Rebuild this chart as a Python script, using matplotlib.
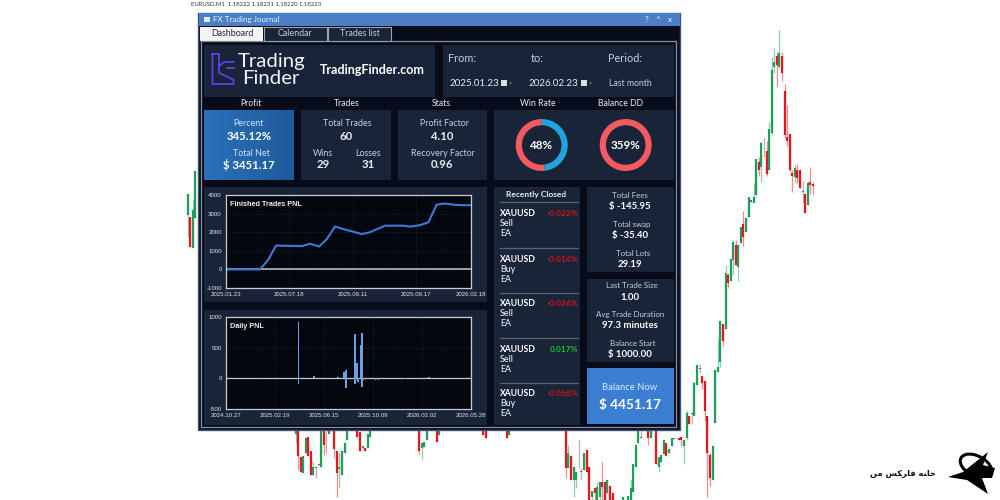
import numpy as np
import matplotlib
matplotlib.use("Agg")
import matplotlib.pyplot as plt
from matplotlib.patches import Rectangle, Polygon, Arc

plt.rcParams["font.family"] = ["Lato", "DejaVu Sans"]

# ---- chart data ----
pnl_pos = [0, 13.9, 17.3, 20.4, 30.9, 34.3, 38, 41.1, 44.5, 47.9, 55.4, 58.8, 64.9, 72.4, 75.1, 79.2, 82.6, 86, 89.4, 92.9, 97, 100]
pnl_val = [0, 0, 530, 1280, 1250, 1380, 1230, 1620, 2300, 2170, 1900, 2000, 2350, 2350, 2300, 2380, 2530, 3480, 3540, 3480, 3450, 3450]
pnl_tick_pos = [0, 25.85, 51.7, 77.55, 100]
pnl_tick_labels = ["2025.01.23", "2025.07.18", "2025.09.11", "2025.09.17", "2026.02.18"]
pnl_yticks = [-1000, 0, 1000, 2000, 3000, 4000]

daily_day = [86, 170, 170, 206, 263, 277, 282, 282, 303, 303, 307, 309, 317, 319, 319, 323, 351, 358, 420, 476]
daily_val = [-15, 920, -90, 30, 20, 100, 140, -150, 730, -100, 250, -60, 540, 740, -140, -20, -20, -20, -15, 15]
daily_ticks = [0, 115, 230, 345, 460, 575]
daily_tick_labels = ["2024.10.27", "2025.02.19", "2025.06.15", "2025.10.09", "2026.02.02", "2026.05.28"]
daily_yticks = [-500, 0, 500, 1000]

win_rate = [52, 48]
balance_dd = [100]

closed_symbol = ["XAUUSD"] * 5
closed_side = ["Sell", "Buy", "Sell", "Sell", "Buy"]
closed_pct = ["-0.022%", "-0.014%", "-0.024%", "0.017%", "-0.056%"]

candles_left = [(54, 195, 132, 132, 262), (60, 200, 290, 200, 290), (68, 295, 180, 148, 295), (75, 205, 62, 62, 205)]
candles_right_top = [
    (183, 668, 620, 620, 668), (190, 612, 650, 572, 678), (198, 635, 595, 595, 635), (206, 590, 532, 532, 590),
    (214, 545, 540, 540, 545), (222, 548, 530, 490, 548), (229, 525, 418, 418, 525), (237, 425, 450, 410, 468),
    (244, 440, 370, 362, 485), (252, 385, 383, 350, 410), (260, 392, 462, 362, 468), (268, 450, 328, 305, 450),
    (275, 338, 150, 110, 345), (283, 142, 125, 85, 158), (291, 108, 135, 95, 200), (298, 142, 100, 30, 145),
    (306, 108, 160, 95, 182), (314, 212, 345, 192, 350), (321, 350, 362, 255, 378), (329, 343, 450, 343, 455),
    (337, 458, 468, 450, 515), (345, 472, 445, 435, 490), (352, 450, 475, 432, 490), (360, 450, 505, 450, 505),
    (368, 516, 513, 482, 548), (375, 522, 580, 522, 580), (383, 555, 490, 482, 555), (391, 485, 495, 442, 522),
    (398, 492, 498, 485, 525),
]
candles_right_low = [
    (4, 562, 570, 562, 588), (12, 588, 570, 570, 642), (20, 565, 488, 480, 570), (27, 498, 522, 498, 522),
    (35, 493, 490, 485, 522), (43, 498, 400, 392, 498), (51, 405, 345, 345, 405), (59, 358, 355, 342, 368),
    (67, 378, 400, 378, 418), (75, 392, 482, 392, 514), (82, 498, 610, 498, 740), (90, 615, 685, 610, 708),
    (98, 690, 587, 587, 690), (106, 520, 360, 360, 520), (113, 365, 350, 270, 365), (121, 335, 213, 213, 350),
    (129, 222, 272, 222, 287), (137, 238, 68, 45, 238), (144, 75, 100, 68, 115), (152, 92, 28, 28, 92),
    (160, 30, -25, -30, 75), (167, -15, 45, -30, 45), (175, 52, -15, -15, 92),
]
candles_bottom = [
    (47, 28, 18, 18, 55), (55, 18, 93, 18, 135), (62, 97, 142, 97, 142), (70, 143, 92, 92, 143),
    (77, 85, 38, 38, 85), (85, 35, 92, 35, 92), (93, 78, 150, 78, 150), (100, 150, 125, 110, 150),
    (108, 130, 125, 125, 158), (116, 120, 118, 118, 120), (124, 125, 18, 18, 125), (131, 18, 60, 18, 90),
    (139, 85, 83, 18, 85), (147, 28, 18, 18, 28), (162, 18, 72, 18, 100), (170, 78, 143, 78, 215),
    (178, 133, 125, 80, 188), (186, 150, 78, 78, 150), (194, 85, 55, 55, 85), (201, 45, 18, 18, 45),
    (232, 18, 35, 18, 35), (240, 22, 78, 22, 78), (248, 70, 62, 62, 70), (255, 68, 78, 68, 78),
    (263, 70, 27, 27, 70), (270, 35, 18, 18, 35), (417, 18, 78, 18, 88), (425, 70, 55, 55, 102),
    (433, 65, 50, 50, 65), (440, 45, 18, 18, 45), (471, 18, 50, 18, 50), (478, 30, 18, 18, 30),
    (610, 18, 30, 18, 30), (617, 18, 38, 18, 38), (680, 18, 38, 18, 38), (688, 30, 18, 18, 30),
    (857, 18, 130, 18, 158), (865, 130, 85, 60, 130), (873, 92, 165, 92, 165), (881, 165, 125, 125, 215),
    (889, 165, 140, 140, 190), (897, 127, 125, 42, 130), (904, 140, 138, 130, 165), (912, 135, 85, 85, 135),
    (920, 75, 140, 75, 140), (928, 125, 225, 125, 225), (936, 215, 198, 198, 225), (944, 190, 205, 190, 225),
    (952, 225, 185, 172, 225), (960, 215, 172, 172, 225), (966, 170, 185, 110, 225), (974, 172, 225, 172, 225),
    (982, 205, 165, 165, 205), (990, 182, 225, 182, 225), (998, 205, 225, 205, 225), (1030, 225, 215, 215, 225),
    (1045, 225, 212, 212, 225), (1052, 225, 190, 165, 225), (1059, 200, 118, 118, 200), (1067, 125, 60, 60, 125),
    (1075, 55, 18, 18, 55), (1082, 38, 36, 18, 38), (1105, 18, 38, 18, 60), (1113, 38, 18, 18, 38),
    (1128, 18, 118, 18, 118), (1136, 125, 95, 95, 142), (1144, 110, 90, 90, 110), (1152, 88, 45, 45, 88),
    (1159, 55, 92, 55, 92), (1167, 85, 72, 72, 85), (1175, 62, 38, 38, 62), (1182, 42, 39, 38, 42),
    (1197, 38, 45, 38, 45),
]

# ---- colours ----
PAGE_BG = "#ffffff"
WIN_BG = "#080c1a"
PANEL = "#1a2438"
GREEN = "#1f9d5c"
RED = "#e8151f"
GRAY = "#6b6b6b"
TEXT = "#e8edf3"
SOFT = "#c3d0de"

fig = plt.figure(figsize=(10, 5), dpi=100, facecolor=PAGE_BG)
ax = fig.add_axes([0, 0, 1, 1])
ax.set_xlim(0, 1000)
ax.set_ylim(500, 0)
ax.axis("off")


def draw_candles(rows, x0, y0):
    for x, o, c, h, l in rows:
        px = x0 + x / 3
        col = GRAY if abs(o - c) <= 5 else (GREEN if o > c else RED)
        ax.vlines(px, y0 + h / 3, y0 + l / 3, color=col, lw=0.9, alpha=0.5, zorder=1)
        ax.vlines(px, y0 + min(o, c) / 3, y0 + max(o, c) / 3, color=col, lw=1.6, zorder=2)


def panel(x0, y0, x1, y1, color=PANEL):
    ax.add_patch(Rectangle((x0, y0), x1 - x0, y1 - y0, facecolor=color, edgecolor="none", zorder=5))


def label(x, y, s, size=6.4, color=TEXT, weight="normal", ha="center", **kw):
    ax.text(x, y, s, fontsize=size, color=color, fontweight=weight, ha=ha, va="center", zorder=8, **kw)


draw_candles(candles_left, 170, 150)
draw_candles(candles_right_top, 680, 20)
draw_candles(candles_right_low, 680, 250)
draw_candles(candles_bottom, 280, 425)

label(191, 4, "EURUSD.M1  1.18222 1.18231 1.18220 1.18223", size=4.3, color="#333333", ha="left")

# window frame
ax.add_patch(Rectangle((198, 13), 482, 417, facecolor=WIN_BG, edgecolor="#3f5680", lw=1, zorder=4))
panel(199, 13, 680, 26, "#4a7fc6")
label(213, 19.5, "FX Trading Journal", size=5.8, color="#eaf2ff", ha="left")
ax.add_patch(Rectangle((204, 16.5), 6, 5, facecolor="#dfeaf8", zorder=8))
for px, s in zip([647, 658, 670], ["?", "^", "x"]):
    label(px, 19.5, s, size=6, color="#eaf2ff")

# tabs
ax.plot([201, 676, 676, 201, 201], [41, 41, 427, 427, 41], color="#8a909a", lw=0.9, zorder=6)
panel(200, 27, 263, 41, "#f4f5f6")
label(232, 34, "Dashboard", size=6.4, color="#222a36")
for x0, x1, s in [(264, 327, "Calendar"), (328, 391, "Trades list")]:
    ax.add_patch(Rectangle((x0, 27), x1 - x0, 14, facecolor=PANEL, edgecolor="#9aa3ae", lw=0.8, zorder=6))
    label((x0 + x1) / 2, 34, s, size=6.4, color=SOFT)

# header panels
panel(204, 45, 435, 97)
panel(443, 45, 674, 97)

# logo mark
logo = "#5a3fd8"
ax.plot([212.5, 219, 219, 228, 233.5, 233.5, 212.5, 212.5], [54, 54, 73, 77, 80, 84, 84, 54], color=logo, lw=1.4, zorder=8)
ax.plot([233.5, 224, 219], [62, 62, 66], color=logo, lw=1.4, zorder=8)
ax.plot([233.5, 227], [68, 68], color=logo, lw=1.4, zorder=8)
label(238, 62, "Trading", size=14.7, color="#f2f4f7", ha="left")
label(242, 79, "Finder", size=14.7, color="#f2f4f7", ha="left")
label(372, 70, "TradingFinder.com", size=9, color="#ffffff", weight="bold")

label(448, 59, "From:", size=7.8, ha="left", color=SOFT)
label(537, 59, "to:", size=7.8, color=SOFT)
label(625, 59, "Period:", size=7.8, color=SOFT)
label(449, 83, "2025.01.23", size=7, ha="left")
label(553, 83, "2026.02.23", size=7)
label(630, 83, "Last month", size=6.2, color=SOFT)
for px in [501, 581]:
    ax.add_patch(Rectangle((px, 80), 5.5, 6, facecolor="#d8dde3", zorder=8))
    ax.add_patch(Polygon([(px + 8, 82.5), (px + 11, 82.5), (px + 9.5, 84.5)], facecolor="#7d8794", zorder=8))

# section headings
for px, s in zip([251, 347, 441, 538, 621], ["Profit", "Trades", "Stats", "Win Rate", "Balance DD"]):
    label(px, 104, s, size=6.2, color=TEXT)

# stat cards
ax.imshow(np.linspace(0, 1, 64).reshape(1, -1), extent=(204, 294, 180, 110), aspect="auto",
          cmap=matplotlib.colors.LinearSegmentedColormap.from_list("card", ["#2b70ba", "#1f5a9a"]), zorder=5)
ax.set_xlim(0, 1000)
ax.set_ylim(500, 0)
panel(301, 110, 391, 180)
panel(398, 110, 487, 180)
panel(494, 110, 674, 180)

label(248, 124, "Percent", color="#d4e4f6")
label(249, 136, "345.12%", size=8.2, weight="bold", color="#ffffff")
label(251, 153, "Total Net", color="#d4e4f6")
label(249, 165, "$ 3451.17", size=8.2, weight="bold", color="#ffffff")
label(347, 124, "Total Trades", color=SOFT)
label(346, 136, "60", size=8.2, weight="bold")
label(323, 153, "Wins", color=SOFT)
label(323, 165, "29", size=8.2, weight="bold")
label(368, 153, "Losses", color=SOFT)
label(368, 165, "31", size=8.2, weight="bold")
label(444, 124, "Profit Factor", color=SOFT)
label(442, 136, "4.10", size=8.2, weight="bold")
label(443, 153, "Recovery Factor", color=SOFT)
label(442, 165, "0.96", size=8.2, weight="bold")

# chart panels + side panels
panel(204, 187, 487, 302)
panel(204, 310, 487, 425)
panel(494, 187, 580, 425)
panel(587, 187, 674, 272)
panel(587, 279, 674, 362)
panel(587, 368, 674, 424, "#3a7fd2")

label(536, 195, "Recently Closed", size=6, weight="bold")
ax.plot([500, 578], [202, 202], color="#5a6474", lw=0.9, zorder=8)
for i in range(5):
    top = 214 + i * 45
    label(500, top, closed_symbol[i], size=6.2, weight="bold", ha="left", color="#ffffff")
    label(500, top + 10, closed_side[i], size=6.4, ha="left", weight="medium")
    label(500, top + 20, "EA", size=6.4, ha="left", weight="medium")
    label(578, top, closed_pct[i], size=6, weight="bold", ha="right",
          color="#19c42a" if not closed_pct[i].startswith("-") else "#d5121e")
    if i < 4:
        ax.plot([500, 578], [top + 33.5, top + 33.5], color="#5a6474", lw=0.9, zorder=8)

side_labels = [(630, 195, "Total Fees"), (632, 224, "Total swap"), (633, 253, "Total Lots"),
               (632, 285, "Last Trade Size"), (630, 314, "Avg Trade Duration"), (633, 343, "Balance Start")]
side_values = [(630, 206.5, "$ -145.95"), (630, 235.5, "$ -35.40"), (630, 264.5, "29.19"),
               (630, 297, "1.00"), (630, 325.5, "97.3 minutes"), (630, 355, "$ 1000.00")]
for px, py, s in side_labels:
    label(px, py, s, size=5.7, color=SOFT)
for px, py, s in side_values:
    label(px, py, s, size=6.9, weight="bold", color="#ffffff")
label(630, 387, "Balance Now", size=6.8, color="#dbe9fa")
label(630, 405, "$ 4451.17", size=9.8, weight="bold", color="#ffffff")

# watermark (visual-order presentation forms, matplotlib does no shaping)
ax.text(936, 474, "\ufee6\ufee3 \ufeb2\ufb91\ufeae\ufe8e\ufed3 \ufeea\ufee8\ufe8e\ufea7", fontsize=6, fontweight="bold",
        family="DejaVu Sans", color="#111111", ha="right", va="center", zorder=8)
ax.add_patch(Polygon([(948, 477), (963, 472), (988, 452), (983, 465), (995, 468), (992, 478), (982, 478), (988, 494), (967, 480)],
                     facecolor="#000000", zorder=8))
ax.add_patch(Arc((976, 466), 34, 20, angle=28, theta1=120, theta2=340, color="#000000", lw=2.2, zorder=9))


def inset(x0, y0, x1, y1):
    a = fig.add_axes([x0 / 1000, 1 - y1 / 500, (x1 - x0) / 1000, (y1 - y0) / 500])
    a.set_facecolor("#05070f")
    for sp in a.spines.values():
        sp.set_color("#c9ccd0")
        sp.set_linewidth(0.9)
    a.tick_params(length=0, pad=3, labelsize=4.4, labelcolor="#dfe3e8")
    a.grid(True, color="#2b3446", lw=0.5, ls=":")
    a.set_axisbelow(True)
    return a


# finished trades pnl
a1 = inset(226, 195, 471, 288)
a1.axhline(0, color="#a9adb3", lw=1.3, zorder=1)
a1.plot(pnl_pos, pnl_val, color="#3f78d8", lw=1.5, zorder=2)
a1.set_xlim(0, 100)
a1.set_ylim(-1000, 4000)
a1.set_xticks(pnl_tick_pos, pnl_tick_labels, family="Liberation Sans")
a1.set_yticks(pnl_yticks, [str(v) for v in pnl_yticks], family="Liberation Sans")
a1.text(0.015, 0.9, "Finished Trades PNL", transform=a1.transAxes, fontsize=5.2, fontweight="bold",
        color="#f2f2f2", family="Liberation Sans", va="center")

# daily pnl
a2 = inset(226, 317, 471, 409)
a2.axhline(0, color="#c3c8ce", lw=0.9, zorder=1)
a2.bar(daily_day, daily_val, width=4, color="#6c9fe8", zorder=2)
a2.set_xlim(0, 575)
a2.set_ylim(-500, 1000)
a2.set_xticks(daily_ticks, daily_tick_labels, family="Liberation Sans")
a2.set_yticks(daily_yticks, [str(v) for v in daily_yticks], family="Liberation Sans")
a2.text(0.015, 0.9, "Daily PNL", transform=a2.transAxes, fontsize=5.2, fontweight="bold",
        color="#f2f2f2", family="Liberation Sans", va="center")


def donut(cx, cy, r, values, colors, text):
    a = fig.add_axes([(cx - r) / 1000, 1 - (cy + r) / 500, 2 * r / 1000, 2 * r / 500])
    a.pie(values, colors=colors, startangle=90, counterclock=True, radius=1,
          wedgeprops={"width": 0.24, "edgecolor": "none"})
    a.set_xlim(-1, 1)
    a.set_ylim(-1, 1)
    a.text(0, 0, text, ha="center", va="center", fontsize=8.4, fontweight="bold", color="#ffffff")


donut(541.7, 145, 26, win_rate, ["#f45a5f", "#1fa5dc"], "48%")
donut(625.7, 145, 26, balance_dd, ["#f45a5f"], "359%")

fig.savefig("out.png", dpi=100, facecolor=PAGE_BG)
